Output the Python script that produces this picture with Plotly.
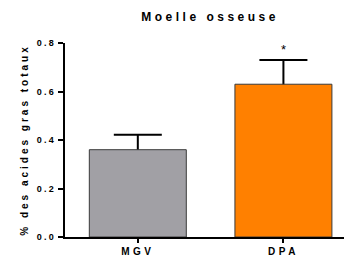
import plotly.graph_objects as go

categories = ["MGV", "DPA"]
means = [0.36, 0.63]
sem = [0.062, 0.10]
colors = ["#A1A0A5", "#FF8000"]
y_ticks = [0.0, 0.2, 0.4, 0.6, 0.8]
y_tick_text = ["0.0", "0.2", "0.4", "0.6", "0.8"]
significance = ["", "*"]

FONT = "Liberation Sans"

fig = go.Figure()
# one-sided error bars, drawn under the bars (lower end tucked inside the bar)
fig.add_trace(go.Bar(
    x=categories, y=means, width=0.666,
    marker=dict(color="rgba(0,0,0,0)", line=dict(width=0)),
    error_y=dict(type="data", symmetric=False, array=sem, arrayminus=[0.012]*len(sem),
                 color="#000000", thickness=2, width=24),
    showlegend=False, hoverinfo="skip",
))
fig.add_trace(go.Bar(
    x=categories, y=means, width=0.666,
    marker=dict(color=colors, line=dict(color="#3a3a3a", width=1)),
    showlegend=False,
))

for c, m, s, t in zip(categories, means, sem, significance):
    if t:
        fig.add_annotation(x=c, y=m + s, text=t, showarrow=False,
                           yanchor="bottom", yshift=1,
                           font=dict(family=FONT, size=13, color="#000"))

fig.update_layout(
    width=344, height=259,
    margin=dict(l=65, r=0, t=43, b=22),
    barmode="overlay",
    plot_bgcolor="white", paper_bgcolor="white",
    font=dict(family=FONT, color="#000"),
    title=dict(text="<b>Moelle osseuse</b>", x=0.52, xref="paper", xanchor="center",
               y=0.934, yref="container", yanchor="middle",
               font=dict(family=FONT, size=12, color="#000")),
    xaxis=dict(range=[-0.5, 1.416], showline=True, linecolor="#000", linewidth=2,
               ticks="outside", ticklen=4, tickwidth=2, tickcolor="#000",
               tickfont=dict(family=FONT, size=10, color="#000", weight="bold"),
               showgrid=False, zeroline=False),
    yaxis=dict(range=[0, 0.8], tickvals=y_ticks, ticktext=y_tick_text,
               showline=True, linecolor="#000", linewidth=2,
               ticks="outside", ticklen=5, tickwidth=2, tickcolor="#000",
               tickfont=dict(family=FONT, size=9, color="#000", weight="bold"),
               showgrid=False, zeroline=False,
               title=dict(text="<b>% des acides gras totaux</b>", standoff=13,
                          font=dict(family=FONT, size=10, color="#000"))),
)

post = """
document.body.style.margin = '0';
document.body.style.padding = '0';
var gd = document.getElementById('{plot_id}');
function sp(){
  gd.querySelectorAll('.gtitle').forEach(function(e){e.style.letterSpacing='3.5px';});
  gd.querySelectorAll('.xtick text').forEach(function(e){e.style.letterSpacing='3.5px';});
  gd.querySelectorAll('.ytick text').forEach(function(e){e.style.letterSpacing='2.3px';});
  gd.querySelectorAll('.ytitle').forEach(function(e){e.style.letterSpacing='3px';});
}
sp();
gd.on('plotly_afterplot', sp);
"""
fig.write_html("out.html", post_script=post, config={"displayModeBar": False})
